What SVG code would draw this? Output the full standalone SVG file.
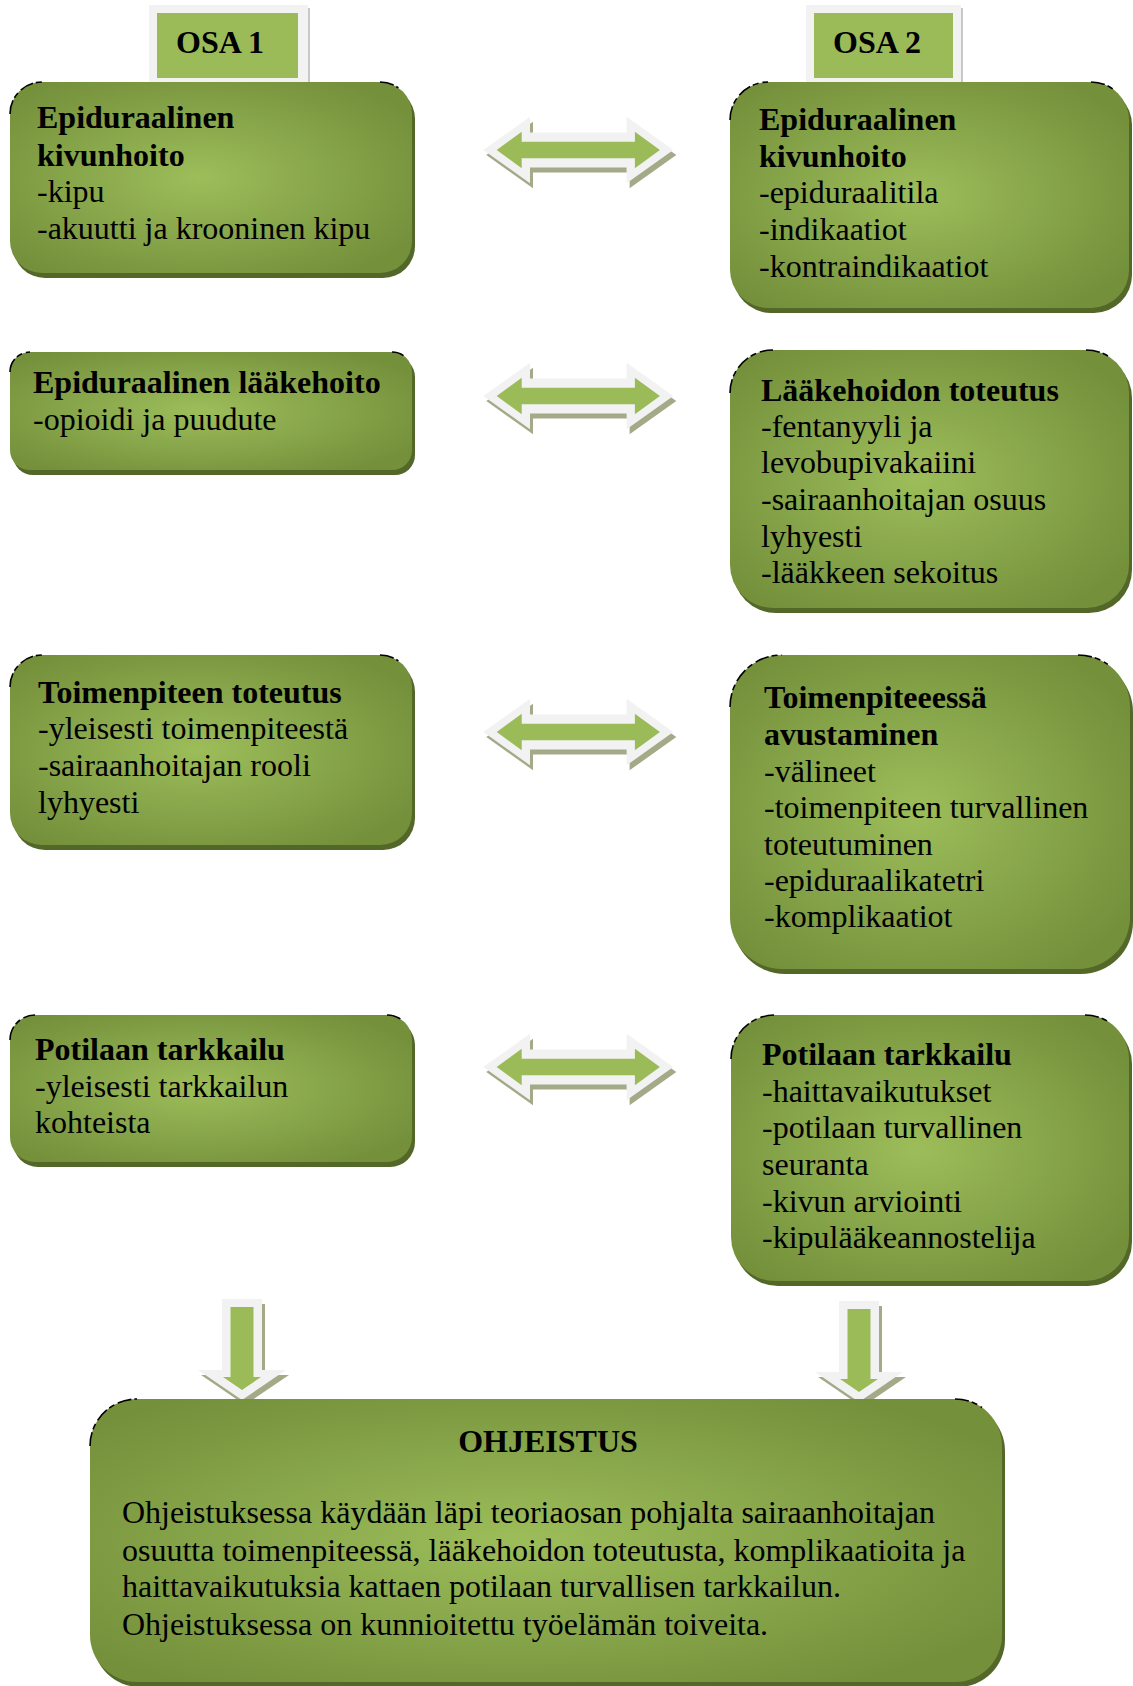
<svg xmlns="http://www.w3.org/2000/svg" width="1133" height="1686" viewBox="0 0 1133 1686">
<defs>
<radialGradient id="boxg" cx="0.47" cy="0.5" r="0.62">
<stop offset="0" stop-color="#9dbd5a"/>
<stop offset="0.55" stop-color="#86a449"/>
<stop offset="1" stop-color="#74903b"/>
</radialGradient>
<polygon id="harrOut" points="-95,0 -48.3,-33.3 -48.3,-17.5 48.3,-17.5 48.3,-33.3 95,0 48.3,33.3 48.3,17.5 -48.3,17.5 -48.3,33.3"/>
<polygon id="harrIn" points="-81.6,0 -56.6,-18.3 -56.6,-8.3 56.6,-8.3 56.6,-18.3 81.6,0 56.6,18.3 56.6,8.3 -56.6,8.3 -56.6,18.3"/>
<polygon id="varrOut" points="-20,0 20,0 20,71 44,71 0,101 -44,71 -20,71"/>
<polygon id="varrIn" points="-11.5,8 11.5,8 11.5,78 19,78 0,91 -19,78 -11.5,78"/>
</defs>
<style>
.box{fill:url(#boxg);}
.shd{fill:#536729;}
.art{fill:none;stroke:#000;stroke-width:1.6;stroke-dasharray:14 3 6 4;}
.t{font-family:"Liberation Serif","Times New Roman",serif;font-size:32px;fill:#000;}
.b{font-weight:bold;}
.aw{fill:#f2f2f2;}
.ag{fill:#9bbb59;}
.as{fill:#a4aa88;}
.lw{fill:#f2f2f2;}
.ls{fill:#c8c8c8;}
.lg{fill:#9bbb59;}
</style>
<rect width="1133" height="1686" fill="#ffffff"/>

<g id="connectors">
<g transform="translate(578.3,150)"><use href="#harrOut" class="as" x="3" y="5"/><use href="#harrOut" class="aw"/><use href="#harrIn" class="ag"/></g>
<g transform="translate(578.3,396)"><use href="#harrOut" class="as" x="3" y="5"/><use href="#harrOut" class="aw"/><use href="#harrIn" class="ag"/></g>
<g transform="translate(578.3,732)"><use href="#harrOut" class="as" x="3" y="5"/><use href="#harrOut" class="aw"/><use href="#harrIn" class="ag"/></g>
<g transform="translate(578.3,1067)"><use href="#harrOut" class="as" x="3" y="5"/><use href="#harrOut" class="aw"/><use href="#harrIn" class="ag"/></g>
<g transform="translate(242,1299)"><use href="#varrOut" class="as" x="3" y="5"/><use href="#varrOut" class="aw"/><use href="#varrIn" class="ag"/></g>
<g transform="translate(859,1301)"><use href="#varrOut" class="as" x="3" y="5"/><use href="#varrOut" class="aw"/><use href="#varrIn" class="ag"/></g>
</g>

<g id="osa1">
<rect x="151" y="8" width="159" height="80" class="ls"/>
<rect x="149" y="5" width="159" height="80" class="lw"/>
<rect x="157" y="13" width="141" height="65" class="lg"/>
<text x="176" y="53" class="t b">OSA 1</text>
</g>
<g id="osa2">
<rect x="808" y="8" width="155" height="80" class="ls"/>
<rect x="806" y="5" width="155" height="80" class="lw"/>
<rect x="814" y="13" width="139" height="65" class="lg"/>
<text x="833" y="53" class="t b">OSA 2</text>
</g>

<g id="L1">
<rect x="13" y="87" width="402" height="191" rx="32" class="shd"/>
<rect x="10" y="82" width="402" height="191" rx="32" class="box"/>
<path class="art" d="M10,114 A32,32 0 0 1 42,82 M380,82 A32,32 0 0 1 398.4,87.8"/>
<text class="t" x="37"><tspan class="b" y="128">Epiduraalinen</tspan><tspan class="b" x="37" y="166">kivunhoito</tspan><tspan x="37" y="202">-kipu</tspan><tspan x="37" y="239">-akuutti ja krooninen kipu</tspan></text>
</g>
<g id="R1">
<rect x="733" y="87" width="399" height="226" rx="38" class="shd"/>
<rect x="730" y="82" width="399" height="226" rx="38" class="box"/>
<path class="art" d="M730,120 A38,38 0 0 1 768,82 M1091,82 A38,38 0 0 1 1112.8,88.9"/>
<text class="t" x="759"><tspan class="b" y="130">Epiduraalinen</tspan><tspan class="b" x="759" y="167">kivunhoito</tspan><tspan x="759" y="203">-epiduraalitila</tspan><tspan x="759" y="240">-indikaatiot</tspan><tspan x="759" y="277">-kontraindikaatiot</tspan></text>
</g>
<g id="L2">
<rect x="13" y="357" width="402" height="118" rx="20" class="shd"/>
<rect x="10" y="352" width="402" height="118" rx="20" class="box"/>
<path class="art" d="M10,372 A20,20 0 0 1 30,352 M392,352 A20,20 0 0 1 403.5,355.6"/>
<text class="t" x="33"><tspan class="b" y="393">Epiduraalinen lääkehoito</tspan><tspan x="33" y="430">-opioidi ja puudute</tspan></text>
</g>
<g id="R2">
<rect x="733" y="355" width="399" height="258" rx="43" class="shd"/>
<rect x="730" y="350" width="399" height="258" rx="43" class="box"/>
<path class="art" d="M730,393 A43,43 0 0 1 773,350 M1086,350 A43,43 0 0 1 1110.7,357.8"/>
<text class="t" x="761"><tspan class="b" y="401">Lääkehoidon toteutus</tspan><tspan x="761" y="437">-fentanyyli ja</tspan><tspan x="761" y="473">levobupivakaiini</tspan><tspan x="761" y="510">-sairaanhoitajan osuus</tspan><tspan x="761" y="547">lyhyesti</tspan><tspan x="761" y="583">-lääkkeen sekoitus</tspan></text>
</g>
<g id="L3">
<rect x="13" y="660" width="402" height="190" rx="32" class="shd"/>
<rect x="10" y="655" width="402" height="190" rx="32" class="box"/>
<path class="art" d="M10,687 A32,32 0 0 1 42,655 M380,655 A32,32 0 0 1 398.4,660.8"/>
<text class="t" x="38"><tspan class="b" y="703">Toimenpiteen toteutus</tspan><tspan x="38" y="739">-yleisesti toimenpiteestä</tspan><tspan x="38" y="776">-sairaanhoitajan rooli</tspan><tspan x="38" y="813">lyhyesti</tspan></text>
</g>
<g id="R3">
<rect x="733" y="660" width="400" height="314" rx="52" class="shd"/>
<rect x="730" y="655" width="400" height="314" rx="52" class="box"/>
<path class="art" d="M730,707 A52,52 0 0 1 782,655 M1078,655 A52,52 0 0 1 1107.8,664.4"/>
<text class="t" x="764"><tspan class="b" y="708">Toimenpiteeessä</tspan><tspan class="b" x="764" y="745">avustaminen</tspan><tspan x="764" y="782">-välineet</tspan><tspan x="764" y="818">-toimenpiteen turvallinen</tspan><tspan x="764" y="855">toteutuminen</tspan><tspan x="764" y="891">-epiduraalikatetri</tspan><tspan x="764" y="927">-komplikaatiot</tspan></text>
</g>
<g id="L4">
<rect x="13" y="1020" width="402" height="147" rx="25" class="shd"/>
<rect x="10" y="1015" width="402" height="147" rx="25" class="box"/>
<path class="art" d="M10,1040 A25,25 0 0 1 35,1015 M387,1015 A25,25 0 0 1 401.4,1019.5"/>
<text class="t" x="35"><tspan class="b" y="1060">Potilaan tarkkailu</tspan><tspan x="35" y="1097">-yleisesti tarkkailun</tspan><tspan x="35" y="1133">kohteista</tspan></text>
</g>
<g id="R4">
<rect x="734" y="1020" width="398" height="266" rx="44" class="shd"/>
<rect x="731" y="1015" width="398" height="266" rx="44" class="box"/>
<path class="art" d="M731,1059 A44,44 0 0 1 775,1015 M1085,1015 A44,44 0 0 1 1110.3,1023"/>
<text class="t" x="762"><tspan class="b" y="1065">Potilaan tarkkailu</tspan><tspan x="762" y="1102">-haittavaikutukset</tspan><tspan x="762" y="1138">-potilaan turvallinen</tspan><tspan x="762" y="1175">seuranta</tspan><tspan x="762" y="1212">-kivun arviointi</tspan><tspan x="762" y="1248">-kipulääkeannostelija</tspan></text>
</g>
<g id="ohjeistus">
<rect x="93" y="1404" width="912" height="283" rx="47" class="shd"/>
<rect x="90" y="1399" width="912" height="283" rx="47" class="box"/>
<path class="art" d="M90,1446 A47,47 0 0 1 137,1399 M955,1399 A47,47 0 0 1 982,1407.5"/>
<text x="548" y="1452" class="t b" text-anchor="middle">OHJEISTUS</text>
<text class="t" x="122"><tspan y="1523">Ohjeistuksessa käydään läpi teoriaosan pohjalta sairaanhoitajan</tspan><tspan x="122" y="1561">osuutta toimenpiteessä, lääkehoidon toteutusta, komplikaatioita ja</tspan><tspan x="122" y="1597">haittavaikutuksia kattaen potilaan turvallisen tarkkailun.</tspan><tspan x="122" y="1635">Ohjeistuksessa on kunnioitettu työelämän toiveita.</tspan></text>
</g>
</svg>
